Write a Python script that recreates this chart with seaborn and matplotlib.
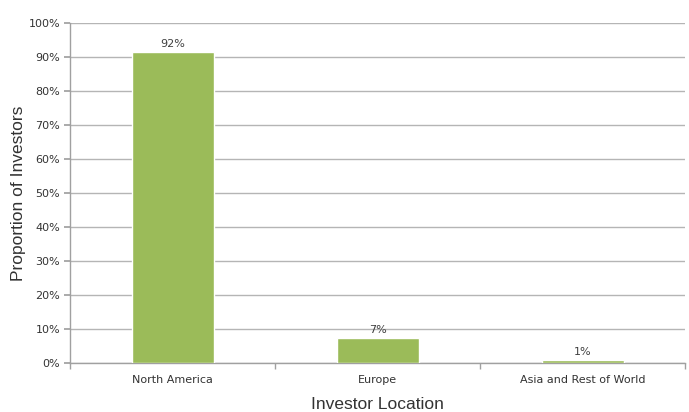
import matplotlib
matplotlib.use("Agg")
import matplotlib.pyplot as plt
import seaborn as sns
import pandas as pd
import numpy as np
from matplotlib.ticker import PercentFormatter, FixedLocator

categories = ["North America", "Europe", "Asia and Rest of World"]
values = [91.6, 7.4, 1.0]
value_labels = ["92%", "7%", "1%"]

sns.set_theme(style="white")
plt.rcParams['font.family'] = ['DejaVu Sans']

df = pd.DataFrame({"loc": categories, "val": values})

fig = plt.figure(figsize=(6.89, 4.12), dpi=100)
ax = fig.add_axes([0.1016, 0.119, 0.893, 0.825])

sns.barplot(data=df, x="loc", y="val", color="#9BBB59", width=0.4, saturation=1, ax=ax, zorder=3)

ax.set_ylim(0, 100)
ax.set_xlim(-0.5, 2.5)
ax.set_yticks(np.arange(0, 101, 10))
ax.yaxis.set_major_formatter(PercentFormatter(decimals=0))
ax.yaxis.grid(True, color="#B5B5B5", linewidth=1, zorder=0)
ax.set_axisbelow(True)

for i, (v, lab) in enumerate(zip(values, value_labels)):
    ax.text(i, v + 0.8, lab, ha="center", va="bottom", fontsize=8, color="#404040", zorder=4)

for s in ["top", "right"]:
    ax.spines[s].set_visible(False)
for s in ["left", "bottom"]:
    ax.spines[s].set_color("#A0A0A0")
    ax.spines[s].set_linewidth(1)

ax.tick_params(axis="y", left=True, length=4, color="#A0A0A0", labelsize=8, labelcolor="#333333", pad=3)
ax.tick_params(axis="x", bottom=False, labelsize=8, labelcolor="#333333", pad=3)
ax.xaxis.set_minor_locator(FixedLocator([-0.5, 0.5, 1.5, 2.5]))
ax.tick_params(axis="x", which="minor", bottom=True, length=4, color="#A0A0A0")

ax.set_xlabel("Investor Location", fontsize=12.5, color="#333333", labelpad=8, family="Liberation Sans")
ax.set_ylabel("Proportion of Investors", fontsize=12.5, color="#333333", labelpad=2, family="Liberation Sans")

fig.savefig("out.png", dpi=100)
